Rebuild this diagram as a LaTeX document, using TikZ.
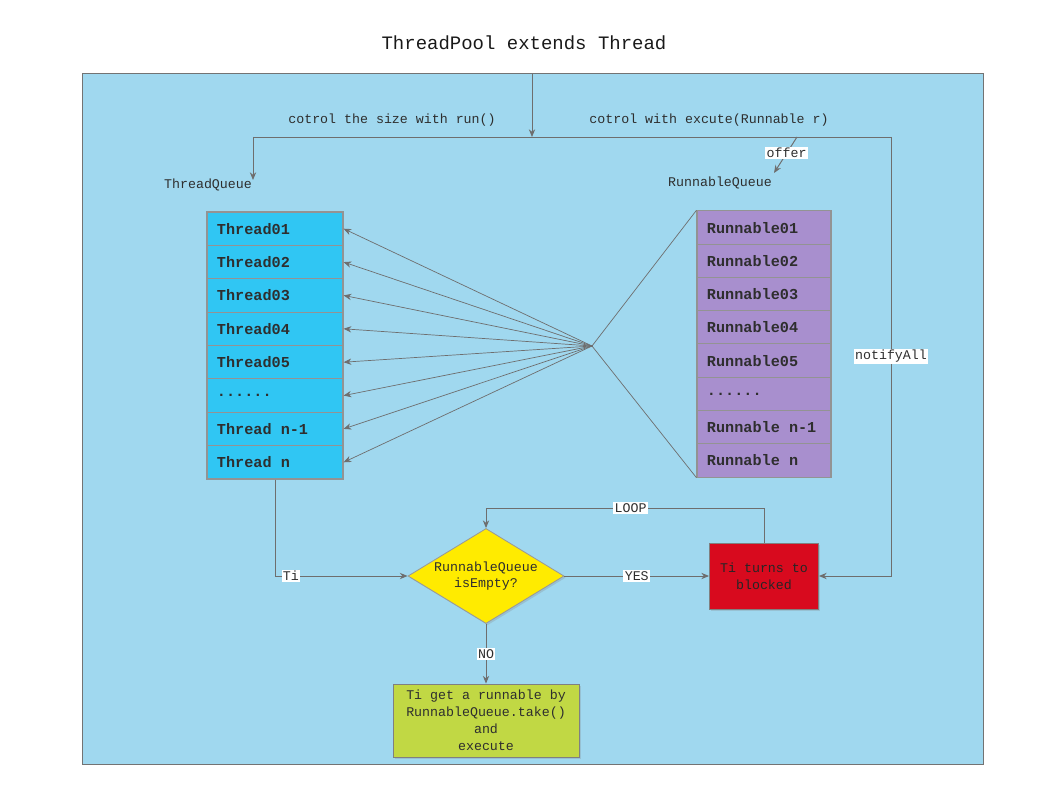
\documentclass[tikz,border=0pt]{standalone}
\usepackage{fontspec}
\setmonofont{Liberation Mono}
\usetikzlibrary{shapes.geometric,arrows.meta,shadows}
\definecolor{bgblue}{HTML}{A0D8EF}
\definecolor{thrblue}{HTML}{30C6F3}
\definecolor{runpurple}{HTML}{A88FCE}
\definecolor{condyellow}{HTML}{FFEB00}
\definecolor{blockred}{HTML}{D80A1E}
\definecolor{taskgreen}{HTML}{C1D844}
\definecolor{linegray}{HTML}{6E6E6E}
\definecolor{sepgray}{HTML}{939393}
\definecolor{txtgray}{HTML}{2E2E2E}
\tikzstyle{txt}=[font=\ttfamily\fontsize{9.45}{12}\selectfont,text=txtgray]
\tikzstyle{lbl}=[txt,fill=white,inner sep=1pt]
\tikzstyle{row}=[draw=sepgray,line width=0.8pt,minimum height=0.835cm,inner xsep=0.25cm,align=flush left,font=\ttfamily\bfseries\fontsize{10.8}{12}\selectfont,text=txtgray]
\tikzstyle{trow}=[row,fill=thrblue,text width=2.9cm]
\tikzstyle{rrow}=[row,fill=runpurple,text width=2.85cm]
\tikzstyle{box}=[draw=black!50,line width=0.6pt,txt,align=flush center,drop shadow={opacity=0.25,shadow xshift=1.2pt,shadow yshift=-1.2pt}]
\tikzstyle{arr}=[draw=linegray,line width=0.7pt,-{Stealth[length=5.5pt,width=4.5pt]}]
\tikzstyle{ln}=[draw=linegray,line width=0.7pt]
\tikzstyle{fan}=[draw=linegray,line width=0.5pt]

\begin{document}
\begin{tikzpicture}[x=0.025cm,y=-0.025cm]
\useasboundingbox (0,0) rectangle (1058,800);
% frame and title
\node[draw=black!55,line width=0.7pt,fill=bgblue,minimum width=22.5cm,minimum height=17.25cm] (frame) at (533,419) {};
\node[txt,text=black!90,font=\ttfamily\fontsize{13.5}{16}\selectfont] (title) at (524,43) {ThreadPool extends Thread};
\node[txt] (sizelbl) at (392,120) {cotrol the size with run()};
\node[txt] (execlbl) at (709,120) {cotrol with excute(Runnable r)};
\node[txt] (tqueue) at (208,185) {ThreadQueue};
\node[txt] (rqueue) at (720,183) {RunnableQueue};
% thread queue
\node[trow] (t1) at (275,228.7) {Thread01};
\node[trow] (t2) at (275,262.1) {Thread02};
\node[trow] (t3) at (275,295.4) {Thread03};
\node[trow] (t4) at (275,328.8) {Thread04};
\node[trow] (t5) at (275,362.2) {Thread05};
\node[trow] (t6) at (275,395.6) {......};
\node[trow] (t7) at (275,428.9) {Thread n-1};
\node[trow] (t8) at (275,462.3) {Thread n};
% runnable queue
\node[rrow] (r1) at (764,227.6) {Runnable01};
\node[rrow] (r2) at (764,260.9) {Runnable02};
\node[rrow] (r3) at (764,294.1) {Runnable03};
\node[rrow] (r4) at (764,327.4) {Runnable04};
\node[rrow] (r5) at (764,360.6) {Runnable05};
\node[rrow] (r6) at (764,393.9) {......};
\node[rrow] (r7) at (764,427.1) {Runnable n-1};
\node[rrow] (r8) at (764,460.4) {Runnable n};
% flow
\node[box,diamond,draw=black!40,fill=condyellow,aspect=1.64,inner sep=0pt,minimum width=3.9cm,minimum height=2.375cm] (cond) at (486,576) {RunnableQueue\\isEmpty?};
\node[box,fill=blockred,minimum width=2.725cm,minimum height=1.65cm,text=black!85] (blocked) at (764,576) {Ti turns to\\blocked};
\node[box,fill=taskgreen,minimum width=4.65cm,minimum height=1.825cm] (task) at (486,720.5) {Ti get a runnable by\\RunnableQueue.take()\\and\\execute};
% connectors
\coordinate (ptop) at (532,74);
\coordinate (pmid) at (532,137);
\coordinate (qleft) at (253,137);
\coordinate (qleftend) at (253,180);
\coordinate (qright) at (891,137);
\coordinate (offs) at (797,137);
\coordinate (offe) at (774,173);
\coordinate (fanc) at (592,346);
\coordinate (loop) at (764,508);
\draw[arr] (ptop) -- (pmid);
\draw[ln] (qleft) -- (qright);
\draw[arr] (qleft) -- (qleftend);
\draw[arr] (qright) |- (blocked.east) node[lbl,pos=0.25] {notifyAll};
\draw[arr] (offs) -- (offe) node[lbl,pos=0.45] {offer};
\draw[fan] (fanc) -- (r1.north west);
\draw[fan] (fanc) -- (r8.south west);
\draw[arr,line width=0.5pt] (fanc) -- (t1.east);
\draw[arr,line width=0.5pt] (fanc) -- (t2.east);
\draw[arr,line width=0.5pt] (fanc) -- (t3.east);
\draw[arr,line width=0.5pt] (fanc) -- (t4.east);
\draw[arr,line width=0.5pt] (fanc) -- (t5.east);
\draw[arr,line width=0.5pt] (fanc) -- (t6.east);
\draw[arr,line width=0.5pt] (fanc) -- (t7.east);
\draw[arr,line width=0.5pt] (fanc) -- (t8.east);
\draw[arr] (t8.south) |- (cond.west) node[lbl,pos=0.56] {Ti};
\draw[arr] (cond.east) -- (blocked.west) node[lbl,midway] {YES};
\draw[arr] (cond.south) -- (task.north) node[lbl,midway] {NO};
\draw[ln] (blocked.north) -- (loop);
\draw[arr] (loop) -| (cond.north) node[lbl,pos=0.24] {LOOP};
\end{tikzpicture}
\end{document}
